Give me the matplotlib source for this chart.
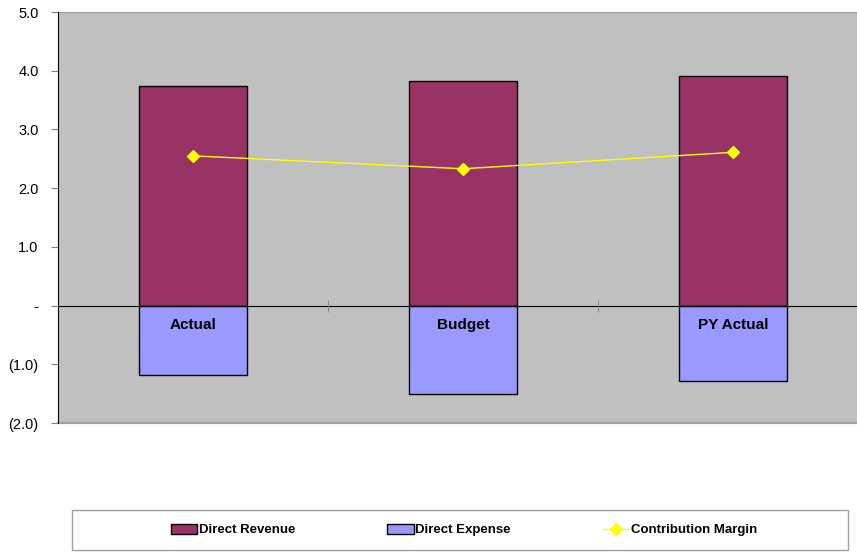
import numpy as np
import matplotlib.pyplot as plt
from matplotlib.ticker import FixedLocator
from matplotlib.patches import Rectangle

# datos del grafico
categories = ["Actual", "Budget", "PY Actual"]
direct_revenue = [3.74, 3.83, 3.91]
direct_expense = [-1.19, -1.50, -1.28]
contribution_margin = [2.55, 2.33, 2.61]
y_ticks = [5, 4, 3, 2, 1, 0, -1, -2]
y_labels = ["5.0", "4.0", "3.0", "2.0", "1.0", "-", "(1.0)", "(2.0)"]

plt.rcParams['font.family'] = ['Liberation Sans', 'DejaVu Sans']

W, H = 857, 552
fig = plt.figure(figsize=(W / 100, H / 100), dpi=100)
# el area del grafico sigue mas alla del borde derecho
ax = fig.add_axes([58 / W, 129 / H, 810 / W, 411 / H])
ax.set_facecolor('#c0c0c0')

x = np.arange(len(categories))
w = 0.4
b1 = ax.bar(x, direct_revenue, w, color='#993366', edgecolor='black', linewidth=1,
            label='Direct Revenue', zorder=2)
b2 = ax.bar(x, direct_expense, w, color='#9999ff', edgecolor='black', linewidth=1,
            label='Direct Expense', zorder=2)
l1, = ax.plot(x, contribution_margin, color='#ffff00', marker='D', markersize=6,
              linewidth=1, label='Contribution Margin', zorder=3)

ax.set_xlim(-0.5, len(categories) - 0.5)
ax.set_ylim(-2, 5)
ax.set_yticks(y_ticks)
ax.set_yticklabels(y_labels, fontsize=10.5)
ax.tick_params(axis='y', direction='out', length=5, color='#808080', pad=9)

# eje x en cero
ax.spines['bottom'].set_position(('data', 0))
ax.spines['bottom'].set_color('black')
ax.set_xticks(x)
ax.set_xticklabels(categories, fontsize=11, fontweight='bold')
ax.tick_params(axis='x', which='major', length=0, pad=9)
ax.xaxis.set_minor_locator(FixedLocator(x[:-1] + 0.5))
ax.tick_params(axis='x', which='minor', direction='inout', length=8, color='#808080')
ax.xaxis.set_zorder(4)

ax.spines['left'].set_color('black')
ax.spines['left'].set_zorder(4)
ax.spines['right'].set_visible(False)
ax.spines['top'].set_color('#a0a0a0')
ax.axhline(-2, color='#a0a0a0', linewidth=1.5, clip_on=False)

# leyenda con marco propio
fig.patches.append(Rectangle((72 / W, 2 / H), 776 / W, 40 / H, transform=fig.transFigure,
                             facecolor='white', edgecolor='#a0a0a0', linewidth=1))
leg = fig.legend([b1, b2, l1], ['Direct Revenue', 'Direct Expense', 'Contribution Margin'],
                 loc='center', bbox_to_anchor=(464 / W, 1 - 530 / H), ncol=3,
                 frameon=False, prop={'weight': 'bold', 'size': 9.5}, handlelength=2.0,
                 handleheight=0.8, handletextpad=0.1, columnspacing=7.0)

fig.savefig('out.png', dpi=100)
